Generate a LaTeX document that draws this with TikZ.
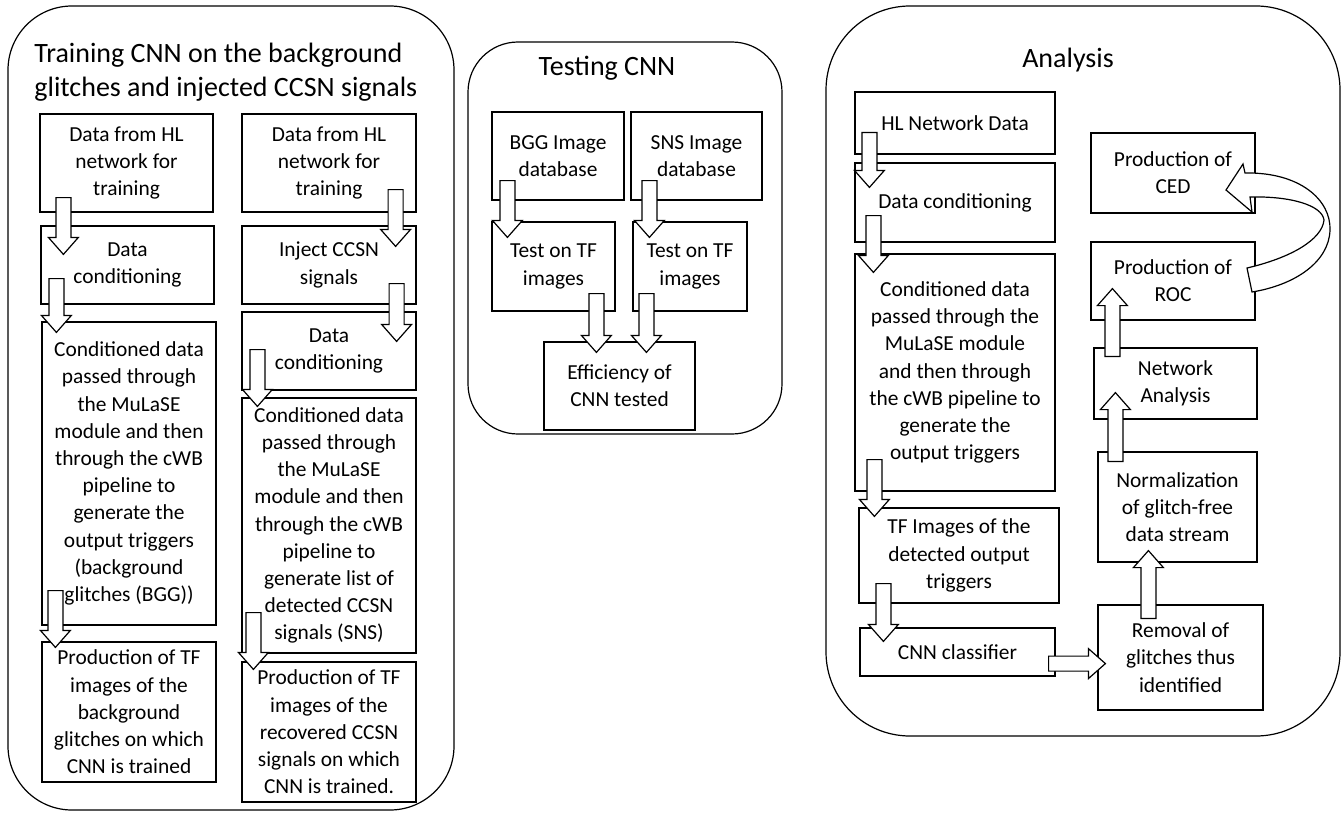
\documentclass[tikz,border=0pt]{standalone}
\usepackage{fontspec}
\setmainfont{Carlito}
\usetikzlibrary{calc}

% hollow block arrow from #1 (tail) to #2 (tip)
\newcommand{\harrow}[2]{%
  \path[draw, fill=white, line width=0.6pt]
    let \p1 = (#1), \p2 = (#2),
        \n1 = {atan2(\y2-\y1,\x2-\x1)}, \n2 = {veclen(\x2-\x1,\y2-\y1)}
    in [shift={(\p1)}, rotate=\n1]
    (0pt,-3.75pt) -- ({\n2*1pt-8.5pt},-3.75pt) -- ({\n2*1pt-8.5pt},-7.5pt)
    -- ({\n2*1pt},0pt) -- ({\n2*1pt-8.5pt},7.5pt) -- ({\n2*1pt-8.5pt},3.75pt)
    -- (0pt,3.75pt) -- cycle;}

\begin{document}
\begin{tikzpicture}[x=0.5pt, y=-0.5pt,
box/.style={draw, line width=0.6pt, align=center, inner sep=0pt,
  font=\fontsize{10.7}{13.6}\selectfont},
panel/.style={draw, line width=0.6pt},
title/.style={inner sep=0pt, font=\fontsize{14}{17}\selectfont}]
\useasboundingbox (0,0) rectangle (1343,813);

\draw[panel, rounded corners=32pt] (8,6) rectangle (454,810);
\draw[panel, rounded corners=25pt] (468,42) rectangle (782,434);
\draw[panel, rounded corners=42pt] (826,6) rectangle (1340,736);

\node[title, anchor=west, align=left] (ttrain) at (34,72)
  {Training CNN on the background\\glitches and injected CCSN signals};
\node[title] (ttest) at (607,68) {Testing CNN};
\node[title] (tana) at (1068,60) {Analysis};

% training, background glitches
\node[box, minimum width=86.5pt, minimum height=49pt] (l1) at (126.5,163)
  {Data from HL\\network for\\training};
\node[box, minimum width=86.5pt, minimum height=39pt] (l2) at (127.5,265)
  {Data\\conditioning};
\node[box, minimum width=87pt, minimum height=151.5pt] (l3) at (129,473.5)
  {Conditioned data\\passed through\\the MuLaSE\\module and then\\through the cWB\\pipeline to\\generate the\\output triggers\\(background\\glitches (BGG))};
\node[box, minimum width=87pt, minimum height=70pt] (l4) at (129,712)
  {Production of TF\\images of the\\background\\glitches on which\\CNN is trained};

% training, injected signals
\node[box, minimum width=87pt, minimum height=49pt] (r1) at (329,163)
  {Data from HL\\network for\\training};
\node[box, minimum width=87pt, minimum height=39pt] (r2) at (329,265)
  {Inject CCSN\\signals};
\node[box, minimum width=87pt, minimum height=39pt] (r3) at (329,351)
  {Data\\conditioning};
\node[box, minimum width=87pt, minimum height=127.5pt] (r4) at (329,525.5)
  {Conditioned data\\passed through\\the MuLaSE\\module and then\\through the cWB\\pipeline to\\generate list of\\detected CCSN\\signals (SNS)};
\node[box, minimum width=87pt, minimum height=70pt] (r5) at (329,732)
  {Production of TF\\images of the\\recovered CCSN\\signals on which\\CNN is trained.};

% testing
\node[box, minimum width=66pt, minimum height=44pt] (m1) at (558,156)
  {BGG Image\\database};
\node[box, minimum width=65.5pt, minimum height=44pt] (m2) at (696.5,156)
  {SNS Image\\database};
\node[box, minimum width=61.5pt, minimum height=44.5pt] (m3) at (553.5,266.5)
  {Test on TF\\images};
\node[box, minimum width=57pt, minimum height=44.5pt] (m4) at (690,266.5)
  {Test on TF\\images};
\node[box, minimum width=75.5pt, minimum height=44pt] (m5) at (619.5,386)
  {Efficiency of\\CNN tested};

% analysis
\node[box, minimum width=100pt, minimum height=31pt] (a1) at (955,123)
  {HL Network Data};
\node[box, minimum width=100pt, minimum height=39.5pt] (a2) at (955,202.5)
  {Data conditioning};
\node[box, minimum width=100pt, minimum height=118.5pt] (a3) at (955,372.5)
  {Conditioned data\\passed through the\\MuLaSE module\\and then through\\the cWB pipeline to\\generate the\\output triggers};
\node[box, minimum width=100pt, minimum height=47.5pt] (a4) at (959,555.5)
  {TF Images of the\\detected output\\triggers};
\node[box, minimum width=97.5pt, minimum height=24pt] (a5) at (957.5,652)
  {CNN classifier};
\node[box, minimum width=82pt, minimum height=40pt] (b1) at (1173,173)
  {Production of\\CED};
\node[box, minimum width=82pt, minimum height=39pt] (b2) at (1173,281)
  {Production of\\ROC};
\node[box, minimum width=81.5pt, minimum height=35.5pt] (b3) at (1175.5,383.5)
  {Network\\Analysis};
\node[box, minimum width=79.5pt, minimum height=55pt] (b4) at (1177.5,507)
  {Normalization\\of glitch-free\\data stream};
\node[box, minimum width=82.5pt, minimum height=52.5pt] (b5) at (1180.5,657.5)
  {Removal of\\glitches thus\\identified};

% block arrows
\harrow{[shift={(24,-15)}]l1.south west}{[shift={(23,29)}]l2.north west}
\harrow{[shift={(16,-26)}]l2.south west}{[shift={(15,11)}]l3.north west}
\harrow{[shift={(14,-35)}]l3.south west}{[shift={(14,6)}]l4.north west}
\harrow{[shift={(-21,-23)}]r1.south east}{[shift={(-21,21)}]r2.north east}
\harrow{[shift={(-20,-21)}]r2.south east}{[shift={(-20,30)}]r3.north east}
\harrow{[shift={(16,-41)}]r3.south west}{[shift={(16,9)}]r4.north west}
\harrow{[shift={(12,-41)}]r4.south west}{[shift={(12,8)}]r5.north west}

\harrow{[shift={(16,-20)}]m1.south west}{[shift={(16,16)}]m3.north west}
\harrow{[shift={(19,-20)}]m2.south west}{[shift={(17,16)}]m4.north west}
\harrow{[shift={(105,-18)}]m3.south west}{[shift={(53,11)}]m5.north west}
\harrow{[shift={(14,-18)}]m4.south west}{[shift={(103,11)}]m5.north west}

\harrow{[shift={(15,-22)}]a1.south west}{[shift={(15,25)}]a2.north west}
\harrow{[shift={(19,-27)}]a2.south west}{[shift={(19,19)}]a3.north west}
\harrow{[shift={(20,-32)}]a3.south west}{[shift={(16,9)}]a4.north west}
\harrow{[shift={(25,-20)}]a4.south west}{[shift={(24,14)}]a5.north west}
\harrow{[shift={(-7,-13)}]a5.south east}{[shift={(8,-47)}]b5.south west}
\harrow{[shift={(51,14)}]b5.north west}{[shift={(51,-12)}]b4.south west}
\harrow{[shift={(18,10)}]b4.north west}{[shift={(22,-27)}]b3.south west}
\harrow{[shift={(19,9)}]b3.north west}{[shift={(22,-32)}]b2.south west}

% curved arrow ROC -> CED
\draw[fill=white, line width=0.6pt] (1226,190) -- (1243,164) -- (1245,173)
  .. controls (1300,172) and (1331,200) .. (1330,230)
  .. controls (1329,262) and (1295,285) .. (1252,292) -- (1247,268)
  .. controls (1290,258) and (1322,240) .. (1324,220)
  .. controls (1322,205) and (1290,196) .. (1250,197) -- (1252,212) -- cycle;
\end{tikzpicture}
\end{document}
